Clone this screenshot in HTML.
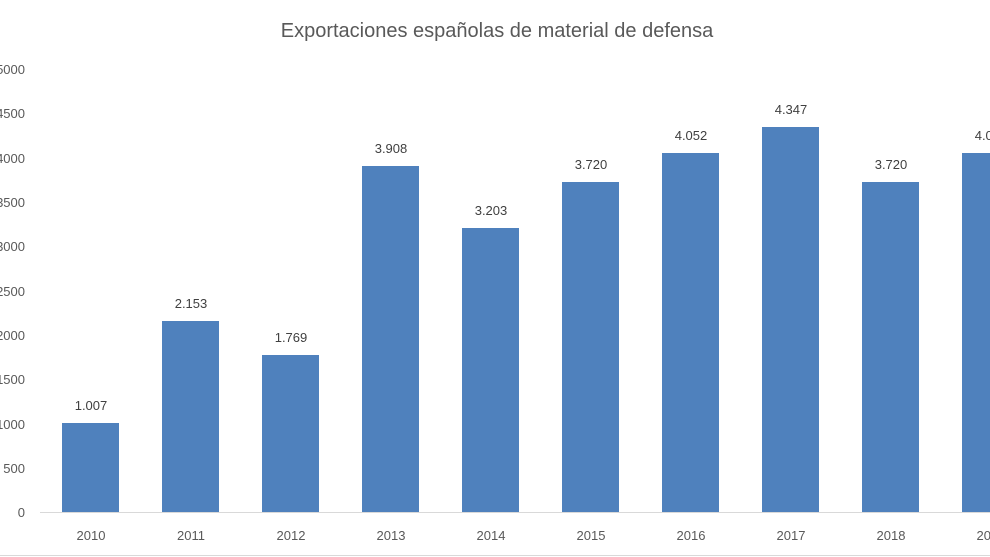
<!DOCTYPE html>
<html><head><meta charset="utf-8"><style>
html,body{margin:0;padding:0;background:#fff;}
svg{display:block;font-family:"Liberation Sans",sans-serif;}
</style></head><body>
<svg width="990" height="557" viewBox="0 0 990 557" xmlns="http://www.w3.org/2000/svg">
<rect width="990" height="557" fill="#fff"/>
<text x="497" y="37" text-anchor="middle" font-size="20" fill="#595959">Exportaciones españolas de material de defensa</text>
<g font-size="13" fill="#595959" text-anchor="end">
<text x="25" y="74">5000</text>
<text x="25" y="118">4500</text>
<text x="25" y="163">4000</text>
<text x="25" y="207">3500</text>
<text x="25" y="251">3000</text>
<text x="25" y="296">2500</text>
<text x="25" y="340">2000</text>
<text x="25" y="384">1500</text>
<text x="25" y="429">1000</text>
<text x="25" y="473">500</text>
<text x="25" y="517">0</text>
</g>
<line x1="40" y1="512.5" x2="990" y2="512.5" stroke="#d9d9d9" stroke-width="1"/>
<line x1="0" y1="555.5" x2="990" y2="555.5" stroke="#d9d9d9" stroke-width="1"/>
<g fill="#4f81bd">
<rect x="62" y="423" width="57" height="89"/>
<rect x="162" y="321" width="57" height="191"/>
<rect x="262" y="355" width="57" height="157"/>
<rect x="362" y="166" width="57" height="346"/>
<rect x="462" y="228" width="57" height="284"/>
<rect x="562" y="182" width="57" height="330"/>
<rect x="662" y="153" width="57" height="359"/>
<rect x="762" y="127" width="57" height="385"/>
<rect x="862" y="182" width="57" height="330"/>
<rect x="962" y="153" width="57" height="359"/>
</g>
<g font-size="13" fill="#404040" text-anchor="middle">
<text x="91" y="410">1.007</text>
<text x="191" y="308">2.153</text>
<text x="291" y="342">1.769</text>
<text x="391" y="153">3.908</text>
<text x="491" y="215">3.203</text>
<text x="591" y="169">3.720</text>
<text x="691" y="140">4.052</text>
<text x="791" y="114">4.347</text>
<text x="891" y="169">3.720</text>
<text x="991" y="140">4.045</text>
</g>
<g font-size="13" fill="#595959" text-anchor="middle">
<text x="91" y="540">2010</text>
<text x="191" y="540">2011</text>
<text x="291" y="540">2012</text>
<text x="391" y="540">2013</text>
<text x="491" y="540">2014</text>
<text x="591" y="540">2015</text>
<text x="691" y="540">2016</text>
<text x="791" y="540">2017</text>
<text x="891" y="540">2018</text>
<text x="991" y="540">2019</text>
</g>
</svg>
</body></html>
